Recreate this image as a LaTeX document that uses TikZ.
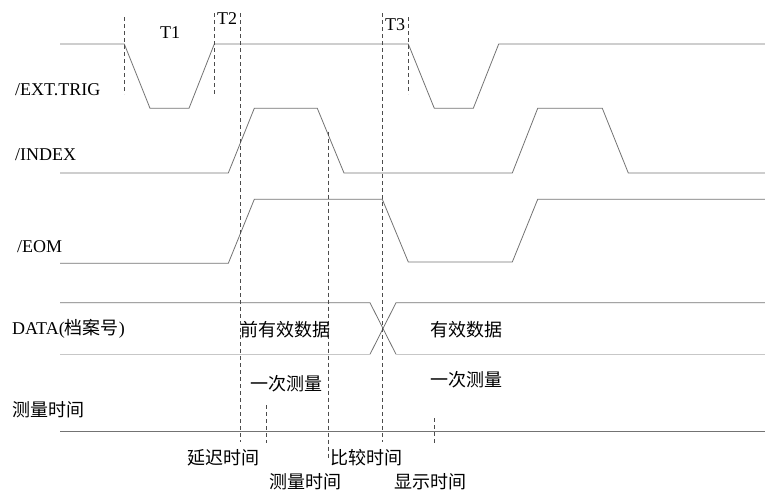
\documentclass[tikz,border=0pt]{standalone}
\usepackage{fontspec}
\setmainfont{Liberation Serif}
\newfontfamily\cjk{Noto Sans CJK SC}
\usepackage{xcolor}
\usepackage{tikz}
\usetikzlibrary{calc}

\begin{document}
\begin{tikzpicture}[x=1pt, y=-1pt,
    every node/.style={font=\fontsize{18}{20}\selectfont, inner sep=0pt},
    sig/.style={draw=black!55, line width=0.8pt},
    siglight/.style={draw=black!22, line width=1pt},
    guide/.style={draw=black!70, line width=0.7pt, dash pattern=on 4pt off 3pt}]
  \useasboundingbox (0,0) rectangle (765,491);
  % levels
  \coordinate (hi) at (0,44);   \coordinate (lo) at (0,108.3);
  % signals
  \draw[sig] (60,44) -- (124.3,44) -- (150,108.3) -- (189,108.3) -- (214.3,44)
    -- (408.3,44) -- (434.3,108.3) -- (473.3,108.3) -- (498.7,44) -- (765,44);
  \draw[sig] (60,173) -- (228.3,173) -- (254.3,108.3) -- (317.3,108.3) -- (344,173)
    -- (512.3,173) -- (537.7,108.3) -- (602.3,108.3) -- (628.3,173) -- (765,173);
  \draw[sig] (60,263.3) -- (228.3,263.3) -- (254.3,199.3) -- (382.3,199.3) -- (408.3,262)
    -- (512.3,262) -- (537.7,199.3) -- (765,199.3);
  \draw[sig] (60,302.7) -- (370,302.7) -- (396,354.3);
  \draw[sig] (370,354.3) -- (396,302.7) -- (765,302.7);
  \draw[siglight] (60,354.3) -- (370,354.3);
  \draw[siglight] (396,354.3) -- (765,354.3);
  \draw[sig] (60,431.7) -- (765,431.7);
  % guides
  \draw[guide] (124.3,17) -- (124.3,94);
  \draw[guide] (214.3,13) -- (214.3,94);
  \draw[guide] (240,13) -- (240,442);
  \draw[guide] (382.3,13) -- (382.3,442);
  \draw[guide] (408.3,17) -- (408.3,94);
  \draw[guide] (328.3,131.7) -- (328.3,460);
  \draw[guide] (266.7,405) -- (266.7,443);
  \draw[guide] (434.3,418) -- (434.3,443);
  % signal names
  \node[anchor=west] (extrig) at (15,90) {/EXT.TRIG};
  \node[anchor=west] (index) at (15,155) {/INDEX};
  \node[anchor=west] (eom) at (17,246.7) {/EOM};
  \node[anchor=west] (data) at (12,329) {DATA({\cjk 档案号})};
  \node[anchor=west] (mtime) at (12,410) {\cjk 测量时间};
  % intervals
  \node (t1) at (170,33) {T1};
  \node (t2) at (227,19) {T2};
  \node (t3) at (395,25) {T3};
  % data and time labels
  \node (oldval) at (285.5,329.3) {\cjk 前有效数据};
  \node (newval) at (466,329.3) {\cjk 有效数据};
  \node (meas1) at (286,383.3) {\cjk 一次测量};
  \node (meas2) at (466,380) {\cjk 一次测量};
  \node (delay) at (223,457.7) {\cjk 延迟时间};
  \node (cmp) at (366.7,457.7) {\cjk 比较时间};
  \node (meas) at (305,481.7) {\cjk 测量时间};
  \node (disp) at (430,481.7) {\cjk 显示时间};
\end{tikzpicture}
\end{document}
